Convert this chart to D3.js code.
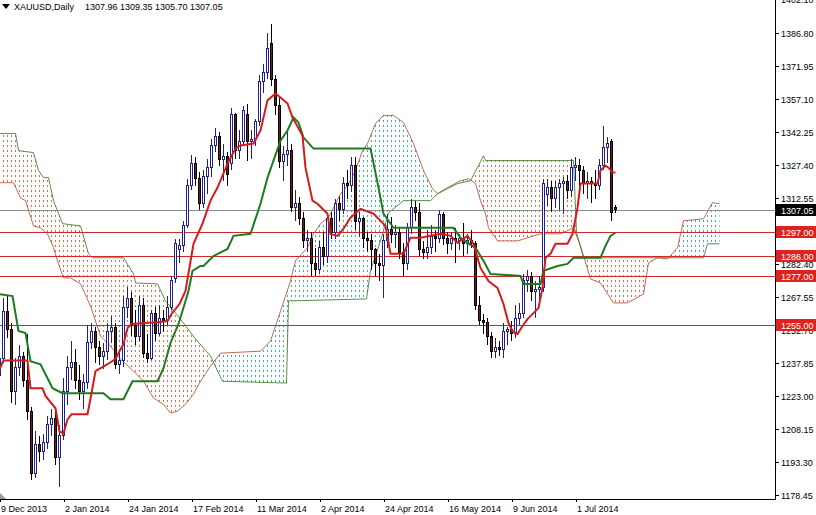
<!DOCTYPE html>
<html><head><meta charset="utf-8">
<script src="https://cdn.jsdelivr.net/npm/d3@7"></script>
<style>
html,body{margin:0;padding:0;background:#fff;}
svg{display:block;font-family:"Liberation Sans",Arial,sans-serif;}
</style></head><body>
<svg id="c" width="816" height="515"></svg>
<script>
// ---------- data ----------
const symbolTitle = "XAUUSD,Daily";
const lastBarText = "1307.96 1309.35 1305.70 1307.05";
const open  = [1232,1240,1261,1253,1225,1236,1241,1230,1216,1188,1201,1198,1202,1210,1213,1195,1205,1225,1236,1238,1230,1225,1229,1247,1252,1245,1241,1243,1252,1254,1237,1239,1263,1267,1255,1250,1264,1242,1240,1260,1251,1258,1257,1263,1276,1289,1291,1300,1318,1328,1321,1310,1322,1326,1336,1340,1330,1331,1328,1350,1334,1338,1350,1338,1339,1347,1365,1369,1382,1366,1354,1329,1332,1334,1308,1310,1303,1293,1294,1283,1280,1290,1286,1303,1297,1310,1307,1319,1318,1327,1302,1303,1294,1293,1289,1283,1282,1293,1298,1296,1297,1288,1283,1299,1308,1306,1289,1288,1290,1295,1294,1305,1294,1292,1294,1293,1294,1292,1293,1292,1264,1257,1256,1250,1243,1245,1244,1252,1253,1251,1258,1260,1275,1277,1270,1271,1272,1314,1317,1312,1317,1319,1320,1316,1326,1327,1325,1319,1320,1319,1318,1327,1335,1338,1307.96];
const high  = [1245,1267,1268,1256,1240,1246,1243,1251,1218,1207,1205,1206,1214,1217,1216,1210,1231,1241,1248,1244,1237,1233,1255,1256,1254,1248,1247,1256,1259,1256,1244,1268,1272,1270,1262,1268,1267,1251,1262,1263,1264,1262,1268,1277,1294,1294,1302,1321,1332,1331,1324,1325,1330,1339,1344,1342,1337,1333,1353,1351,1343,1354,1355,1343,1348,1368,1373,1387,1391,1368,1358,1336,1342,1337,1316,1313,1306,1298,1297,1290,1293,1297,1305,1306,1312,1313,1322,1325,1331,1331,1306,1304,1297,1296,1290,1287,1296,1305,1304,1300,1299,1292,1301,1312,1311,1310,1293,1298,1300,1298,1307,1306,1297,1297,1299,1296,1301,1296,1298,1293,1268,1260,1258,1252,1249,1248,1256,1254,1257,1264,1265,1278,1280,1279,1275,1277,1321,1321,1320,1320,1321,1322,1323,1330,1331,1330,1327,1324,1322,1325,1330,1345,1340,1339,1309.35];
const low   = [1228,1238,1249,1220,1219,1232,1227,1212,1185,1186,1193,1194,1199,1205,1192,1182,1203,1219,1230,1226,1221,1217,1226,1244,1238,1237,1235,1239,1247,1235,1233,1236,1258,1250,1246,1248,1240,1238,1239,1248,1250,1252,1255,1262,1274,1283,1288,1299,1316,1318,1307,1308,1314,1322,1333,1327,1320,1318,1325,1330,1330,1336,1329,1330,1336,1345,1360,1366,1363,1350,1326,1320,1327,1306,1302,1300,1290,1288,1277,1277,1278,1282,1283,1294,1294,1302,1305,1312,1315,1298,1295,1290,1288,1280,1277,1275,1267,1290,1292,1290,1285,1277,1280,1296,1302,1286,1285,1285,1287,1288,1292,1291,1287,1289,1283,1289,1286,1287,1290,1262,1255,1251,1246,1240,1240,1241,1240,1246,1248,1249,1255,1258,1270,1266,1258,1266,1270,1309,1306,1308,1307,1305,1312,1313,1320,1318,1314,1312,1310,1312,1316,1325,1328,1302,1305.70];
const close = [1240,1261,1253,1225,1236,1241,1230,1216,1188,1201,1198,1202,1210,1213,1195,1205,1225,1236,1238,1230,1225,1229,1247,1252,1245,1241,1243,1252,1254,1237,1239,1263,1267,1255,1250,1264,1242,1240,1260,1251,1258,1257,1263,1275,1292,1291,1300,1318,1328,1321,1310,1322,1326,1336,1340,1330,1331,1323,1350,1334,1338,1352,1338,1339,1347,1365,1369,1380,1366,1354,1329,1332,1334,1308,1310,1303,1293,1294,1283,1280,1290,1286,1303,1297,1310,1307,1319,1318,1327,1302,1303,1294,1293,1289,1283,1282,1293,1298,1296,1297,1288,1283,1299,1308,1306,1289,1288,1290,1295,1294,1305,1294,1292,1294,1293,1294,1292,1293,1292,1264,1257,1256,1250,1243,1245,1244,1252,1253,1251,1258,1260,1275,1277,1270,1271,1272,1319,1317,1312,1317,1319,1320,1316,1326,1327,1325,1319,1320,1319,1318,1327,1335,1337,1306,1307.05];

// Ichimoku lines as [bar index, price]
const tenkan = [[0,1235],[1,1239],[7,1239],[7.75,1226.5],[10.75,1226.5],[11.5,1223],[14,1217.4],[15,1207],[16,1206],[17,1212.4],[18,1214.7],[22,1214.7],[23,1224.2],[24,1234.2],[27,1237.3],[29,1239.6],[30,1243.2],[31,1246.4],[32,1253.6],[33,1255.5],[40,1256.4],[42,1256.8],[43,1260],[45,1264.5],[46.5,1270.4],[48.5,1291.7],[50.75,1300.8],[52.75,1311.2],[54.5,1317.1],[55.25,1320.2],[57,1327.9],[59,1334.7],[60.25,1336.1],[63.5,1337],[65.25,1342.9],[67,1356.5],[69,1359.6],[70.25,1357.8],[72,1355.1],[73.25,1348.8],[75.75,1340.6],[76.5,1326.1],[78.25,1311.2],[79.5,1309.8],[82,1305.3],[82.75,1296.2],[84.5,1295.3],[86,1298.5],[87.75,1303.5],[90.25,1307.5],[93.5,1305.3],[96.5,1299.8],[97.75,1287.2],[101,1287.2],[102.75,1294.4],[105.25,1294.4],[110.25,1296.2],[112.75,1295.3],[114.5,1292.1],[117,1295.3],[118.5,1291.7],[119.5,1285.4],[120.25,1280.8],[122.25,1274.9],[124.5,1271.8],[126,1264.5],[127.25,1255.9],[128.25,1252.3],[129.5,1250.9],[130.75,1254.6],[132,1257.7],[133.5,1260.4],[134.75,1262.7],[135.75,1271.8],[136.5,1285.4],[137.75,1287.2],[139,1291.7],[142,1291.7],[143.25,1296.2],[144.5,1308],[145.25,1318.9],[149.5,1318.9],[150.25,1324.8],[151.5,1327],[152.25,1326.1],[153.25,1323.9],[154,1323.9]];
const kijun = [[0,1269],[3.25,1268.1],[4.75,1252.3],[6.5,1251.4],[7.75,1238.7],[10.25,1237.3],[12,1231],[13.25,1226.5],[15.75,1224.2],[26,1224.2],[27.75,1221.5],[31,1221.5],[33.25,1229.6],[39.5,1229.6],[41,1235.5],[42.75,1246.9],[44.75,1255.5],[46.5,1265.9],[47.25,1270.4],[48.25,1279.5],[50.25,1281.7],[51,1281.7],[53.5,1286.2],[57,1289.4],[58.5,1295.3],[62.75,1296.2],[65.25,1309.8],[67,1321.6],[70.25,1338.3],[72,1342.9],[73.5,1348.8],[74.75,1346.5],[76,1339.7],[78.5,1334.7],[92.75,1334.7],[94.75,1317.1],[96,1305.3],[98.5,1298.9],[113.5,1298.9],[115.25,1294.4],[117,1292.1],[119,1289.9],[121,1284],[122.75,1278.1],[130.25,1277.2],[131,1273.6],[135.25,1273.6],[136,1279.5],[139.5,1281.7],[142,1282.6],[143.5,1285.4],[150.25,1285.4],[151.5,1290.8],[152.75,1295.3],[154,1296.7]];
const spanA = [[0,1319.3],[3.5,1319.3],[5.25,1312.5],[6.5,1311.2],[8.5,1299.8],[10.25,1298.9],[12,1296.2],[13.5,1289.9],[14.75,1282.6],[16,1276.3],[17.75,1276.3],[20.25,1273.6],[22.75,1263.6],[25.25,1250],[27.75,1245.5],[30.25,1239.6],[33.5,1234.2],[36,1229.6],[38.5,1222],[41,1219.2],[42.75,1215.2],[44.5,1216.1],[46.5,1219.2],[48.5,1223.8],[50.25,1229.6],[52.75,1236.4],[55.25,1242.3],[65.25,1243.2],[67.75,1247.8],[70.25,1261.3],[72.75,1274.9],[74,1284],[77,1289.9],[78.5,1296.2],[80.25,1300.8],[82.25,1303.5],[83.5,1308],[85.25,1314.3],[87,1318],[89,1324.8],[90.75,1333.8],[92,1337],[94,1346],[96,1349.7],[98.5,1349.7],[101,1346.5],[103.5,1337],[106,1324.8],[108.25,1316.6],[109.5,1314.3],[111.5,1316.6],[115.25,1320.2],[117.25,1321.1],[119,1318.9],[120.25,1311.2],[121.5,1305.3],[122.25,1298.9],[124.5,1293],[129.5,1293],[135.25,1296.2],[140.25,1296.2],[143.5,1298.9],[145.25,1290.8],[147.75,1275.8],[150.25,1274],[153.5,1265],[157,1265],[161,1269],[162.25,1283.1],[164.5,1285.4],[167,1284.9],[169.5,1289.9],[171,1302.1],[176,1303],[178.25,1310.3],[180,1309.8]];
const spanB = [[0,1341.5],[4,1341.5],[4.75,1333.8],[8.5,1332.9],[9.75,1324.8],[11,1321.6],[12.25,1321.6],[13.5,1311.2],[15.75,1300.8],[20.25,1299.8],[22.25,1287.2],[23.25,1285.4],[31,1285.4],[33.5,1278.1],[34,1274],[39.5,1273.6],[41.5,1265.9],[45.25,1257.7],[49,1248.7],[52.75,1241],[55.75,1229.6],[71.75,1228.8],[72.25,1265.9],[91.75,1266.8],[92.75,1279.5],[95.25,1293],[97.25,1305.7],[101,1311.2],[107.75,1311.2],[109.5,1314.3],[112,1316.6],[114.5,1318.9],[117.75,1320.2],[121,1331.5],[121.5,1329.3],[143.5,1329.3],[144.25,1296.7],[146,1285.4],[176,1285.4],[177,1291.7],[180,1291.7]];

const priceTicks = [1402.10,1386.80,1371.95,1357.10,1342.25,1327.40,1312.55,1297.70,1282.40,1267.55,1252.70,1237.85,1223.00,1208.15,1193.30,1178.45];
const dateTicks = [[0,"9 Dec 2013"],[16,"2 Jan 2014"],[32,"24 Jan 2014"],[48,"17 Feb 2014"],[64,"11 Mar 2014"],[80,"2 Apr 2014"],[96,"24 Apr 2014"],[112,"16 May 2014"],[128,"9 Jun 2014"],[144,"1 Jul 2014"]];
const levels = [1297.00,1286.00,1277.00,1255.00];
const bidPrice = 1307.05;

// ---------- chart ----------
const plotR = 775, plotB = 499;
const svg = d3.select("#c");
const x = d3.scaleLinear().domain([0, 100]).range([-0.5, 399.5]);
const y = d3.scaleLinear().domain([1176.42, 1401.84]).range([plotB, 0]);

const defs = svg.append("defs");
defs.append("clipPath").attr("id","plot").append("rect").attr("x",0).attr("y",0).attr("width",plotR).attr("height",plotB);

const toPx = d => [x(d[0]), y(d[1])];
const lineGen = d3.line();
const aPx = spanA.map(toPx), bPx = spanB.map(toPx);
const above = aPx.concat([[x(180)+20,-20],[x(0)-20,-20]]);
const below = aPx.concat([[x(180)+20,700],[x(0)-20,700]]);
const band = lineGen(aPx.concat(bPx.slice().reverse())) + "Z";
defs.append("clipPath").attr("id","abv").append("path").attr("d", lineGen(above)+"Z");
defs.append("clipPath").attr("id","blw").append("path").attr("d", lineGen(below)+"Z");
defs.append("clipPath").attr("id","band").append("path").attr("d", band);

const g = svg.append("g").attr("clip-path","url(#plot)");

// cloud hatch: one dotted vertical stroke per bar, clipped to the cloud
const hatchBars = d3.range(0, 181);
function hatch(clipId, col){
  const outer = g.append("g").attr("clip-path","url(#"+clipId+")");
  const inner = outer.append("g").attr("clip-path","url(#band)");
  inner.selectAll("line").data(hatchBars).join("line")
    .attr("x1", d=>x(d)).attr("x2", d=>x(d)).attr("y1",0).attr("y2",plotB)
    .attr("stroke", col).attr("stroke-width",1).attr("stroke-dasharray","2,3");
}
hatch("abv","#ea6a48");
hatch("blw","#2fbc94");

const line = d3.line().x(d=>x(d[0])).y(d=>y(d[1]));
g.append("path").attr("d",line(spanA)).attr("fill","none").attr("stroke","#b5503a").attr("stroke-width",1).attr("opacity",0.85);
g.append("path").attr("d",line(spanB)).attr("fill","none").attr("stroke","#3c7a2c").attr("stroke-width",1).attr("opacity",0.85);

// horizontal levels
levels.forEach(v=>{
  g.append("line").attr("x1",0).attr("x2",plotR).attr("y1",Math.round(y(v))+0.5).attr("y2",Math.round(y(v))+0.5)
   .attr("stroke","#d02828").attr("stroke-width",1);
});
g.append("line").attr("x1",0).attr("x2",plotR).attr("y1",Math.round(y(bidPrice))+0.5).attr("y2",Math.round(y(bidPrice))+0.5)
  .attr("stroke","#8c8c8c").attr("stroke-width",1);

// candles
const idx = d3.range(close.length);
const cg = g.append("g").attr("shape-rendering","crispEdges");
idx.forEach(i=>{
  const bull = close[i] >= open[i];
  const cx = x(i);
  cg.append("line").attr("x1",cx).attr("x2",cx).attr("y1",y(high[i])).attr("y2",y(low[i]))
    .attr("stroke", bull ? "#1f1f8f" : "#000").attr("stroke-width",1);
  const top = y(Math.max(open[i],close[i])), bot = y(Math.min(open[i],close[i]));
  cg.append("rect").attr("x",cx-1).attr("width",2).attr("y",top).attr("height",Math.max(0.5,bot-top))
    .attr("fill", bull ? "#ffffff" : "#7a1616").attr("stroke", bull ? "#1f1f8f" : "#000").attr("stroke-width",1);
});

// tenkan / kijun
g.append("path").attr("d",line(kijun)).attr("fill","none").attr("stroke","#1e7a1e").attr("stroke-width",2);
g.append("path").attr("d",line(tenkan)).attr("fill","none").attr("stroke","#d41c1c").attr("stroke-width",2);

// axes frame
svg.append("line").attr("x1",plotR+0.5).attr("x2",plotR+0.5).attr("y1",0).attr("y2",plotB+1).attr("stroke","#000");
svg.append("line").attr("x1",0).attr("x2",plotR+1).attr("y1",plotB+0.5).attr("y2",plotB+0.5).attr("stroke","#000");

// price ticks
priceTicks.forEach(v=>{
  const yy = Math.round(y(v))+0.5;
  svg.append("line").attr("x1",plotR).attr("x2",plotR+4).attr("y1",yy).attr("y2",yy).attr("stroke","#000");
  svg.append("text").attr("x",781).attr("y",yy).attr("dy","0.35em").attr("font-size",9).attr("fill","#000").text(v.toFixed(2));
});
// level labels
function tag(v, col){
  const yy = Math.round(y(v));
  svg.append("rect").attr("x",776).attr("y",yy-6).attr("width",40).attr("height",12).attr("fill",col);
  svg.append("text").attr("x",781).attr("y",yy+0.5).attr("dy","0.35em").attr("font-size",9).attr("fill","#fff").text(v.toFixed(2));
}
levels.forEach(v=>tag(v,"#e0221e"));
tag(bidPrice,"#000");

// date ticks
dateTicks.forEach(d=>{
  const xx = Math.round(x(d[0]))+0.5;
  svg.append("line").attr("x1",xx).attr("x2",xx).attr("y1",plotB).attr("y2",plotB+3).attr("stroke","#000");
  svg.append("text").attr("x",xx+0.5).attr("y",512).attr("font-size",9).attr("fill","#000").text(d[1]);
});

// header
svg.append("path").attr("d","M2,4 L10,4 L6,9 Z").attr("fill","#000");
svg.append("text").attr("x",14).attr("y",9.5).attr("font-size",9).attr("fill","#000").text(symbolTitle);
svg.append("text").attr("x",85).attr("y",9.5).attr("font-size",9).attr("fill","#000").text(lastBarText);
// shift marker
svg.append("path").attr("d","M0,493 L0,499 L6,499 Z").attr("fill","#9a9a9a");
</script>
</body></html>
